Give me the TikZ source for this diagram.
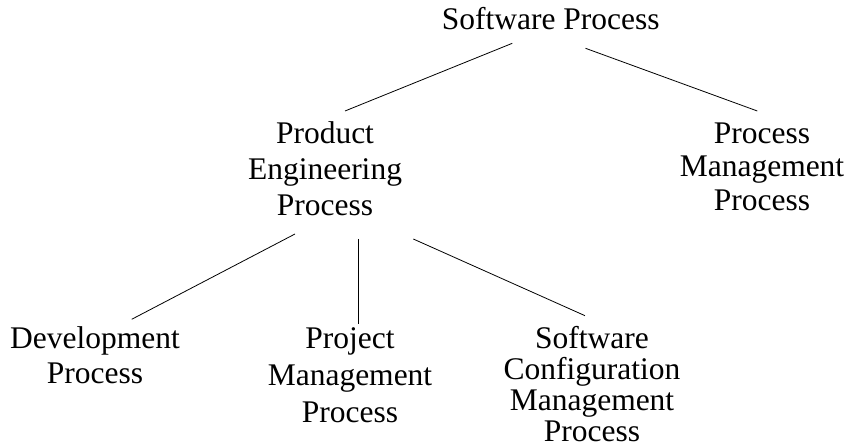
\documentclass[tikz,border=0pt]{standalone}
\usepackage{fontspec}
\setmainfont{Liberation Serif}
\usetikzlibrary{calc}
\newcommand{\lbl}[2]{\fontsize{31.5}{#1}\selectfont\begin{tabular}[t]{@{}c@{}}#2\end{tabular}}
\begin{document}
\begin{tikzpicture}[x=1pt,y=1pt,
  lab/.style={anchor=base,inner sep=0pt,font=\fontsize{31.5}{36}\selectfont},
  conn/.style={line width=0.8pt,black}]
\useasboundingbox (0,0) rectangle (850,443);
\node[lab] (sp)  at (550.7,413)  {Software Process};
\node[lab] (pe)  at (325,299.7)  {\lbl{36}{Product\\Engineering\\Process}};
\node[lab] (pm)  at (762,299.7)  {\lbl{33.5}{Process\\Management\\Process}};
\node[lab] (dev) at (95,94.7)    {\lbl{35}{Development\\Process}};
\node[lab] (pj)  at (350,94.7)   {\lbl{37}{Project\\Management\\Process}};
\node[lab] (scm) at (592,94.7)   {\lbl{31}{Software\\Configuration\\Management\\Process}};
\draw[conn] ($(sp.base)+(-38.4,-13.3)$) -- ($(pe.base)+(20,32.3)$);
\draw[conn] ($(sp.base)+(34.8,-18.3)$) -- ($(pm.base)+(-4.7,32.3)$);
\draw[conn] ($(pe.base)+(-30,-90.7)$) -- ($(dev.base)+(36.7,29)$);
\draw[conn] ($(pe.base)+(33.3,-95.7)$) -- ($(pj.base)+(8.3,24)$);
\draw[conn] ($(pe.base)+(88.3,-95.7)$) -- ($(scm.base)+(-7,32.6)$);
\end{tikzpicture}
\end{document}
